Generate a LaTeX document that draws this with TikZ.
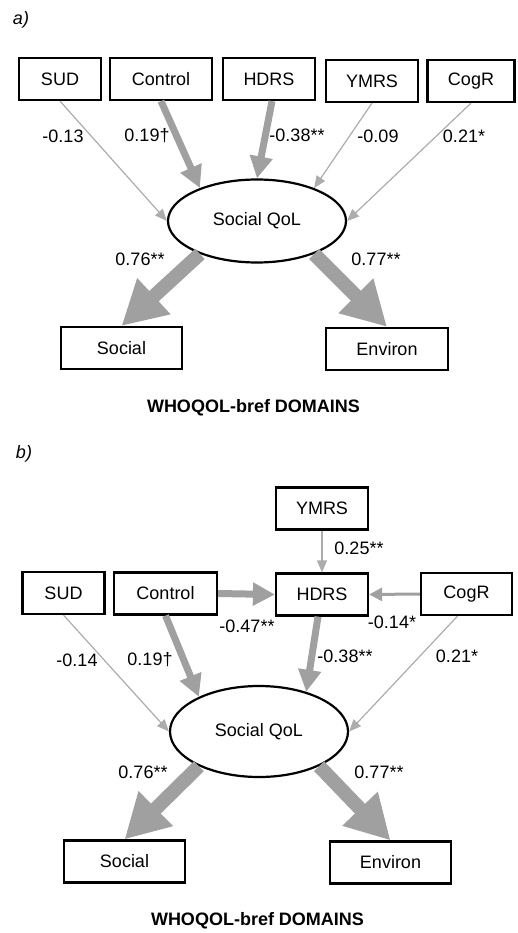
\documentclass[tikz,border=0pt]{standalone}
\usepackage{fontspec}
\setmainfont{Liberation Sans}
\usepackage{tikz}
\usetikzlibrary{positioning, shapes.geometric, arrows.meta}
\definecolor{PathGray}{RGB}{160,160,160}
\definecolor{LightGray}{RGB}{172,172,172}

\begin{document}
\begin{tikzpicture}[x=1pt, y=-1pt,
				every node/.style={font=\fontsize{18}{20}\selectfont},
				VarBox/.style={rectangle, draw=black, line width=2.2pt, fill=white, minimum height=42pt, inner sep=0pt},
				LatentNode/.style={ellipse, draw=black, line width=2.2pt, fill=white, minimum width=178pt, inner sep=0pt},
				ThinPath/.style={draw=LightGray, line width=1.2pt, -{Triangle[length=12pt, width=10pt]}},
				LightPath/.style={draw=PathGray, line width=3pt, -{Triangle[length=13pt, width=13pt]}},
				MidPath/.style={draw=PathGray, line width=7pt, -{Triangle[length=22pt, width=22pt]}},
				BigPath/.style={draw=PathGray, line width=14pt, -{Triangle[length=44pt, width=46pt]}},
				Title/.style={font=\fontsize{18}{20}\selectfont\bfseries}]

			\useasboundingbox (0,0) rectangle (518,933);

			% panel a
			\node (Pa) at (21,20) {\itshape a)};

			\node[VarBox, minimum width=82pt] (SUDa) at (60,79) {SUD};
			\node[VarBox, minimum width=102pt] (Ctrla) at (161,79) {Control};
			\node[VarBox, minimum width=92pt] (HDRSa) at (269,79) {HDRS};
			\node[VarBox, minimum width=92pt] (YMRSa) at (372,81) {YMRS};
			\node[VarBox, minimum width=87pt] (CogRa) at (471,81) {CogR};

			\node[LatentNode, minimum height=83pt] (QoLa) at (257,221) {Social QoL};

			\node[VarBox, minimum width=121pt] (Soca) at (121.5,348) {Social};
			\node[VarBox, minimum width=122pt] (Enva) at (387,349) {Environ};
			\node[Title] (Doma) at (253.5,408) {WHOQOL-bref DOMAINS};

			\draw[ThinPath] (SUDa.south) to (QoLa.west);
			\draw[MidPath] (Ctrla.south) to (QoLa.150);
			\draw[MidPath] ([xshift=3pt]HDRSa.south) to (QoLa.north);
			\draw[ThinPath] (YMRSa.south) to (QoLa.30);
			\draw[ThinPath] (CogRa.south) to (QoLa.east);
			\draw[BigPath] (QoLa.210) to (Soca.north);
			\draw[BigPath] (QoLa.330) to (Enva.north);

			\node (La1) at (63,136) {-0.13};
			\node (La2) at (147,136) {0.19\textdagger};
			\node (La3) at (297,135) {-0.38**};
			\node (La4) at (378,136) {-0.09};
			\node (La5) at (464,136) {0.21*};
			\node (La6) at (140,259) {0.76**};
			\node (La7) at (376,259) {0.77**};

			% panel b
			\node (Pb) at (24,454) {\itshape b)};

			\node[VarBox, minimum width=92pt] (YMRSb) at (322,508.5) {YMRS};
			\node[VarBox, minimum width=82pt] (SUDb) at (63.5,593) {SUD};
			\node[VarBox, minimum width=103pt] (Ctrlb) at (165.5,593.5) {Control};
			\node[VarBox, minimum width=92pt] (HDRSb) at (322,594.5) {HDRS};
			\node[VarBox, minimum width=91pt] (CogRb) at (466.5,594) {CogR};

			\node[LatentNode, minimum height=91pt] (QoLb) at (259,731.5) {Social QoL};

			\node[VarBox, minimum width=121pt] (Socb) at (124.5,861.5) {Social};
			\node[VarBox, minimum width=121pt] (Envb) at (390.5,862.5) {Environ};
			\node[Title] (Domb) at (257.5,921) {WHOQOL-bref DOMAINS};

			\draw[ThinPath] (YMRSb.south) to (HDRSb.north);
			\draw[MidPath] (Ctrlb.east) to (HDRSb.west);
			\draw[LightPath] (CogRb.west) to (HDRSb.east);
			\draw[ThinPath] (SUDb.south) to (QoLb.west);
			\draw[MidPath] (Ctrlb.south) to (QoLb.150);
			\draw[MidPath] ([xshift=-4pt]HDRSb.south) to (QoLb.40);
			\draw[ThinPath] ([xshift=-9pt]CogRb.south) to (QoLb.east);
			\draw[BigPath] (QoLb.210) to (Socb.north);
			\draw[BigPath] (QoLb.330) to (Envb.north);

			\node (Lb1) at (359,548) {0.25**};
			\node (Lb2) at (247,626) {-0.47**};
			\node (Lb3) at (392,622) {-0.14*};
			\node (Lb4) at (77,660) {-0.14};
			\node (Lb5) at (150,660) {0.19\textdagger};
			\node (Lb6) at (345,656) {-0.38**};
			\node (Lb7) at (457,656) {0.21*};
			\node (Lb8) at (143,772) {0.76**};
			\node (Lb9) at (379,772) {0.77**};
		\end{tikzpicture}
\end{document}
